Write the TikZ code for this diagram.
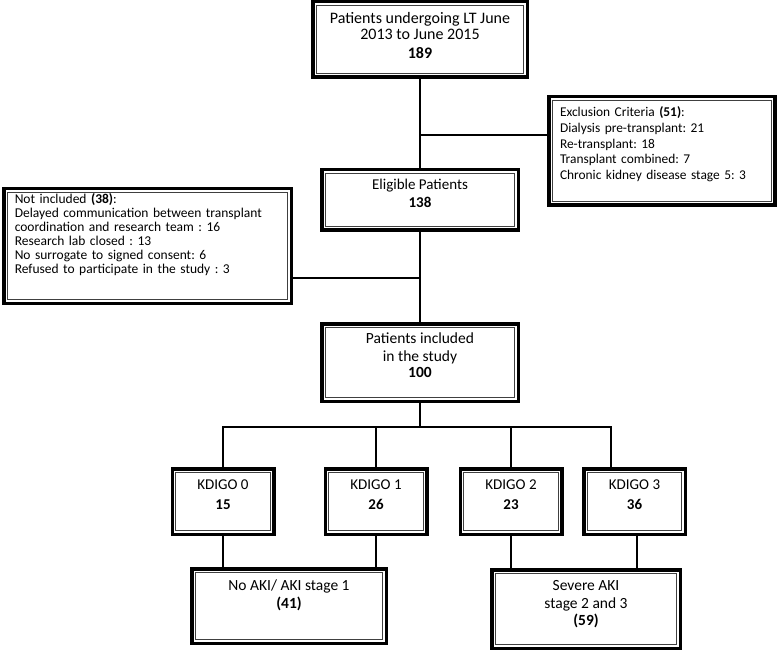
\documentclass[tikz,border=0pt]{standalone}
\usepackage{fontspec}
\setmainfont{Carlito}
\frenchspacing
\usetikzlibrary{positioning}
\tikzset{
    x=1pt, y=-1pt, % one unit is one pixel of the scan, y runs downwards
    link/.style={draw, line width=1.1pt}, % the plain connecting lines
    }

\begin{document}
\begin{tikzpicture}[dblbox/.style={draw, line width=3.5pt, fill=white, align=center, inner sep=2pt, font=\fontsize{15.5}{18}\selectfont, path picture={\draw[line width=0.8pt, black!75] ([shift={(3.4pt,3.4pt)}]path picture bounding box.south west) rectangle ([shift={(-3.4pt,-3.4pt)}]path picture bounding box.north east);}}, listbox/.style={dblbox, align=left, inner xsep=11pt}, kbox/.style={dblbox, minimum width=101.5pt, minimum height=65.5pt, font=\fontsize{15}{20}\selectfont}]
\useasboundingbox (0,0) rectangle (778,652);
\node[dblbox, minimum width=214.5pt, minimum height=75.5pt, font=\fontsize{16}{16}\selectfont] (top) at (420,39.5) {Patients undergoing LT June\\2013 to June 2015\\[3pt]\textbf{189}\\[-8pt]};
\node[listbox, text width=204pt, minimum height=108.5pt, font=\fontsize{13.4}{15.6}\selectfont] (excl) at (662,151) {Exclusion Criteria \textbf{(51)}:\\Dialysis pre-transplant: 21\\Re-transplant: 18\\Transplant combined: 7\\Chronic kidney disease stage 5: 3\\\mbox{}};
\node[dblbox, minimum width=196.5pt, minimum height=60.5pt, font=\fontsize{15}{18}\selectfont] (elig) at (420,200) {Eligible Patients\\\textbf{138}\\[-4pt]};
\node[listbox, text width=265.5pt, minimum height=114.5pt, font=\fontsize{13.5}{14}\selectfont] (notin) at (147.5,246) {Not included \textbf{(38)}:\\Delayed communication between transplant\\coordination and research team : 16\\Research lab closed : 13\\No surrogate to signed consent: 6\\Refused to participate in the study : 3\\[12pt]\mbox{}};
\node[dblbox, minimum width=196.5pt, minimum height=77.5pt] (incl) at (420,362.5) {Patients included\\in the study\\[-2pt]\textbf{100}\\[-4pt]};
\node[kbox] (k0) at (223,501.5) {KDIGO 0\\\textbf{15}\\[-7pt]};
\node[kbox] (k1) at (376,501.5) {KDIGO 1\\\textbf{26}\\[-7pt]};
\node[kbox] (k2) at (511,501.5) {KDIGO 2\\\textbf{23}\\[-7pt]};
\node[kbox] (k3) at (634.5,501.5) {KDIGO 3\\\textbf{36}\\[-7pt]};
\node[dblbox, minimum width=194.5pt, minimum height=74.5pt] (noaki) at (289,606) {No AKI/ AKI stage 1\\\textbf{(41)}\\[6pt]};
\node[dblbox, minimum width=188.5pt, minimum height=78.5pt] (severe) at (586,609) {Severe AKI\\stage 2 and 3\\[-1pt]\textbf{(59)}\\[-5pt]};

\coordinate (cut1) at (420,135);
\coordinate (cut2) at (420,278);
\coordinate (bus) at (420,427);
\draw[link] (top) -- (elig)
(cut1) -- (cut1 -| excl.west)
(elig) -- (incl)
(cut2) -- (cut2 -| notin.east)
(incl) -- (bus)
(k0.north) |- (bus) -| ([xshift=-23.5pt]k3.north)
(k1.north) -- (k1.north |- bus)
(k2.north) -- (k2.north |- bus)
(k0.south) -- (k0.south |- noaki.north)
(k1.south) -- (k1.south |- noaki.north)
(k2.south) -- (k2.south |- severe.north)
([xshift=2.5pt]k3.south) -- ([xshift=2.5pt]k3.south |- severe.north);
\end{tikzpicture}
\end{document}
